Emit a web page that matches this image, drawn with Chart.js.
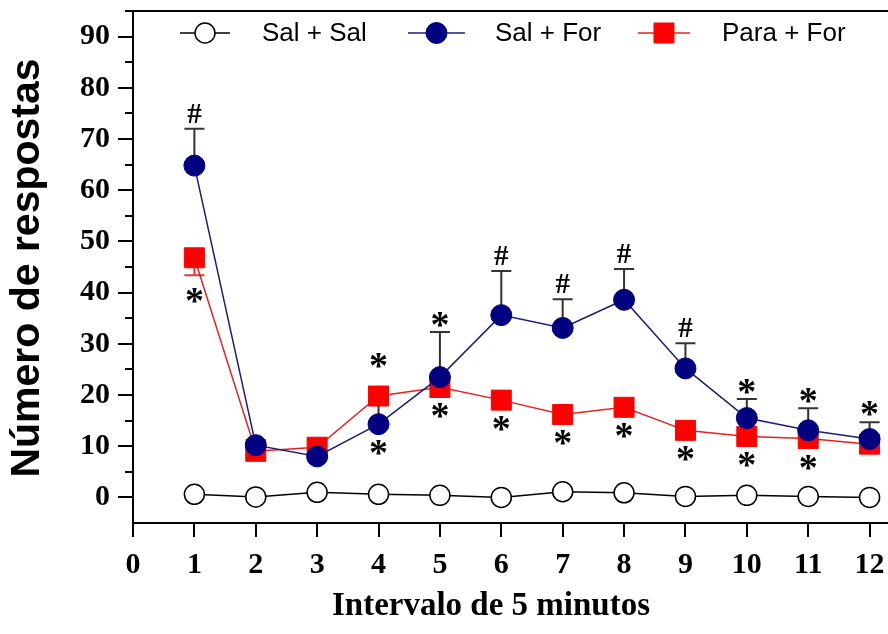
<!DOCTYPE html>
<html><head><meta charset="utf-8">
<script src="https://cdn.jsdelivr.net/npm/chart.js@4.4.0/dist/chart.umd.min.js"></script>
<style>html,body{margin:0;padding:0;background:#fff}#wrap{width:888px;height:634px}</style>
</head><body><div id="wrap"><canvas id="c" width="888" height="634"></canvas></div>
<script>
const intervals = [1,2,3,4,5,6,7,8,9,10,11,12];
const xTickValues = [0,1,2,3,4,5,6,7,8,9,10,11,12];
const yTickValues = [0,5,10,15,20,25,30,35,40,45,50,55,60,65,70,75,80,85,90];
const salSal  = [0.6,0.1,1.0,0.6,0.4,0.0,1.1,0.9,0.2,0.4,0.2,0.0];
const salFor  = [64.8,10.2,8.0,14.3,23.5,35.6,33.1,38.6,25.2,15.5,13.1,11.4];
const paraFor = [46.8,9.0,9.8,19.8,21.5,19.0,16.2,17.6,13.1,11.9,11.5,10.4];
const salForSem  = [7.2,1.0,1.0,4.8,8.8,8.6,5.6,6.0,4.9,3.7,4.3,3.3];
const paraForSem = [3.4,1.0,1.0,1.0,1.9,1.0,1.0,1.0,1.0,1.0,1.0,1.0];
const marksAbove = ['#','','','*','*','#','#','#','#','*','*','*'];
const marksBelow = ['*','','','*','*','*','*','*','*','*','*',''];
const seriesNames = ['Sal + Sal','Sal + For','Para + For'];
const yTitle = 'Número de respostas';
const xTitle = 'Intervalo de 5 minutos';

const serif = '"Liberation Serif","Times New Roman",serif';
const sans = '"Liberation Sans",Arial,sans-serif';

const toPts = arr => intervals.map((x,i)=>({x:x,y:arr[i]}));

const extras = {
  id:'extras',
  beforeDatasetsDraw(chart){
    const ctx = chart.ctx, xs = chart.scales.x, ys = chart.scales.y;
    ctx.save();
    ctx.lineWidth = 2;
    intervals.forEach((v,i)=>{
      const px = xs.getPixelForValue(v);
      let y0 = ys.getPixelForValue(salFor[i]), y1 = ys.getPixelForValue(salFor[i]+salForSem[i]);
      ctx.strokeStyle = '#333';
      ctx.beginPath(); ctx.moveTo(px,y0); ctx.lineTo(px,y1); ctx.moveTo(px-10,y1); ctx.lineTo(px+10,y1); ctx.stroke();
      y0 = ys.getPixelForValue(paraFor[i]); y1 = ys.getPixelForValue(paraFor[i]-paraForSem[i]);
      ctx.strokeStyle = '#e03a3a';
      ctx.beginPath(); ctx.moveTo(px,y0); ctx.lineTo(px,y1); ctx.moveTo(px-10,y1); ctx.lineTo(px+10,y1); ctx.stroke();
    });
    ctx.restore();
  },
  afterDatasetsDraw(chart){
    const ctx = chart.ctx, xs = chart.scales.x, ys = chart.scales.y;
    ctx.save();
    ctx.fillStyle = '#000';
    ctx.textAlign = 'center';
    ctx.textBaseline = 'alphabetic';
    intervals.forEach((v,i)=>{
      const px = xs.getPixelForValue(v);
      const cap = ys.getPixelForValue(salFor[i]+salForSem[i]);
      const redC = ys.getPixelForValue(paraFor[i]);
      const blueC = ys.getPixelForValue(salFor[i]);
      const m = marksAbove[i];
      if (m) {
        const anchor = Math.min(cap, redC - 23);
        if (m === '#') { ctx.font = 'bold 29px ' + serif; ctx.fillText('#', px, anchor - 6); }
        else { ctx.font = 'bold 38px ' + serif; ctx.fillText('*', px, anchor + 5); }
      }
      const b = marksBelow[i];
      if (b) {
        const lowC = Math.max(redC, blueC);
        let c = lowC + 24;
        const errEnd = ys.getPixelForValue(paraFor[i]-paraForSem[i]);
        if (errEnd > redC + 12) c = Math.max(c, errEnd + 21);
        ctx.font = 'bold 38px ' + serif;
        ctx.fillText('*', px, c + 17);
      }
    });
    ctx.restore();
  },
  afterDraw(chart){
    const ctx = chart.ctx, xs = chart.scales.x, ys = chart.scales.y, ca = chart.chartArea;
    ctx.save();
    ctx.strokeStyle = '#000'; ctx.lineWidth = 2;
    ctx.beginPath(); ctx.moveTo(125, ca.top); ctx.lineTo(ca.right, ca.top); ctx.stroke();
    yTickValues.forEach(v=>{
      const py = Math.round(ys.getPixelForValue(v));
      const len = v % 10 === 0 ? 15 : 8;
      ctx.beginPath(); ctx.moveTo(ca.left - len, py); ctx.lineTo(ca.left, py); ctx.stroke();
    });
    xTickValues.forEach(v=>{
      const px = Math.round(xs.getPixelForValue(v));
      ctx.beginPath(); ctx.moveTo(px, ca.bottom); ctx.lineTo(px, ca.bottom + 14); ctx.stroke();
    });
    ctx.fillStyle = '#000';
    ctx.font = 'bold 33px ' + serif;
    ctx.textAlign = 'center'; ctx.textBaseline = 'alphabetic';
    ctx.fillText(xTitle, 491, 615);
    ctx.save();
    ctx.translate(28, 268); ctx.rotate(-Math.PI/2);
    ctx.font = 'bold 41px ' + sans; ctx.textBaseline = 'middle';
    ctx.fillText(yTitle, 0, 0);
    ctx.restore();
    const legX = [[180,230,262],[408,465,495],[638,690,722]];
    const ly = 33;
    chart.data.datasets.forEach((ds,i)=>{
      const [a,b,t] = legX[i];
      ctx.strokeStyle = ds.borderColor; ctx.lineWidth = ds.borderWidth;
      ctx.beginPath(); ctx.moveTo(a, ly); ctx.lineTo(b, ly); ctx.stroke();
      const cx = (a+b)/2;
      ctx.fillStyle = ds.pointBackgroundColor; ctx.strokeStyle = ds.pointBorderColor; ctx.lineWidth = ds.pointBorderWidth;
      ctx.beginPath();
      if (ds.pointStyle === 'rect') { ctx.rect(cx-10, ly-10, 20, 20); }
      else { ctx.arc(cx, ly, ds.pointRadius, 0, Math.PI*2); }
      ctx.fill(); ctx.stroke();
      ctx.fillStyle = '#000'; ctx.font = '26px ' + sans; ctx.textAlign = 'left'; ctx.textBaseline = 'middle';
      ctx.fillText(seriesNames[i], t, ly + 1);
    });
    ctx.restore();
  }
};

new Chart(document.getElementById('c'), {
  type: 'line',
  data: {
    datasets: [
      { label: seriesNames[0], data: toPts(salSal), borderColor:'#000', borderWidth:1.5,
        pointStyle:'circle', pointRadius:10, pointBackgroundColor:'#fff', pointBorderColor:'#000', pointBorderWidth:1.5 },
      { label: seriesNames[1], data: toPts(salFor), borderColor:'#1c1c78', borderWidth:1.5,
        pointStyle:'circle', pointRadius:10.5, pointBackgroundColor:'#000080', pointBorderColor:'#000080', pointBorderWidth:1 },
      { label: seriesNames[2], data: toPts(paraFor), borderColor:'#e52222', borderWidth:1.5,
        pointStyle:'rect', pointRadius:14.14, pointBackgroundColor:'#ff0000', pointBorderColor:'#ff0000', pointBorderWidth:1 }
    ]
  },
  options: {
    responsive:false, animation:false, devicePixelRatio:1,
    layout:{ autoPadding:false, padding:{ top:11, left:0, right:0, bottom:0 } },
    plugins:{ legend:{display:false}, tooltip:{enabled:false}, title:{display:false} },
    elements:{ line:{ tension:0 } },
    scales:{
      x:{ type:'linear', min:0, max:12.3,
        afterBuildTicks(s){ s.ticks = xTickValues.map(v=>({value:v})); },
        afterFit(s){ s.height = 111; s.paddingLeft = 0; s.paddingRight = 0; },
        ticks:{ font:{family:serif, size:30, weight:'bold'}, color:'#000', padding:24, maxRotation:0, autoSkip:false },
        grid:{ display:false, drawTicks:false },
        border:{ display:true, color:'#000', width:2 }
      },
      y:{ type:'linear', min:-5, max:95,
        afterBuildTicks(s){ s.ticks = yTickValues.map(v=>({value:v})); },
        afterFit(s){ s.width = 133; s.paddingTop = 0; s.paddingBottom = 0; },
        ticks:{ font:{family:serif, size:30, weight:'bold'}, color:'#000', padding:23, autoSkip:false,
          callback:(v)=> v % 10 === 0 ? String(v) : '' },
        grid:{ display:false, drawTicks:false },
        border:{ display:true, color:'#000', width:2 }
      }
    }
  },
  plugins:[extras]
});
</script></body></html>
